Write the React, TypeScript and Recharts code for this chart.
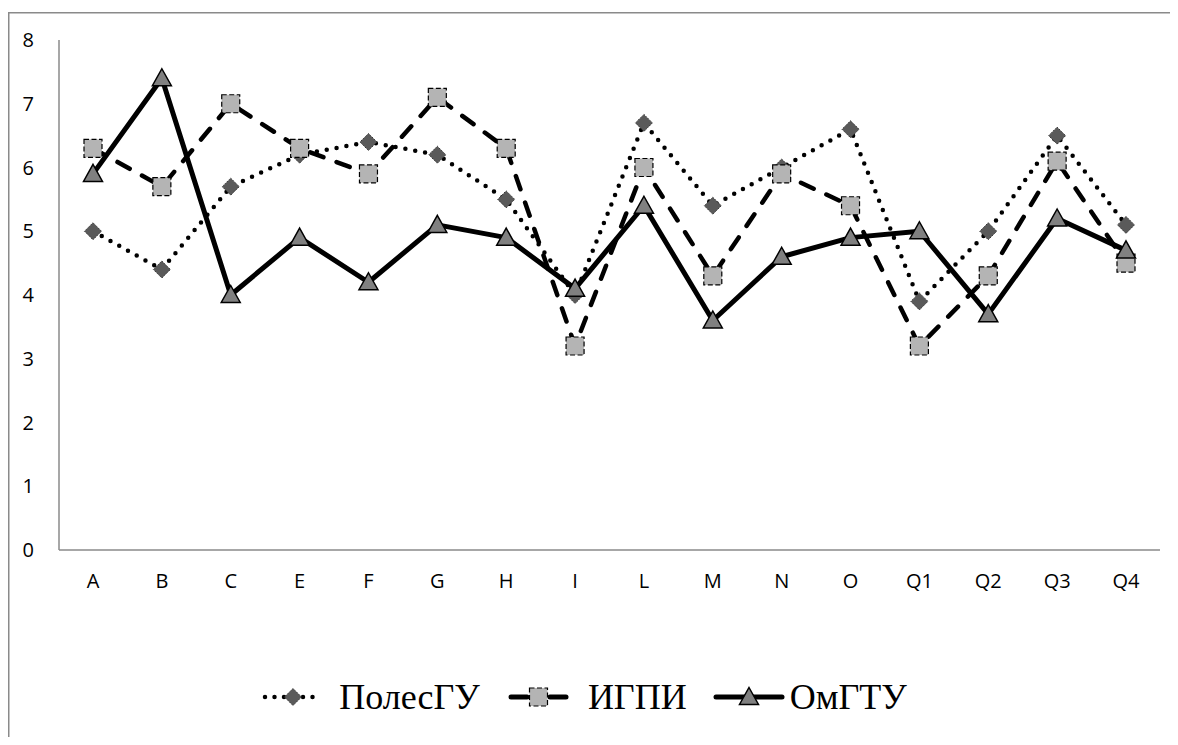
import React from 'react';
import { LineChart, Line, XAxis, YAxis, Legend } from 'recharts';

const categories = ['A', 'B', 'C', 'E', 'F', 'G', 'H', 'I', 'L', 'M', 'N', 'O', 'Q1', 'Q2', 'Q3', 'Q4'];
const polesgu = [5.0, 4.4, 5.7, 6.2, 6.4, 6.2, 5.5, 4.0, 6.7, 5.4, 6.0, 6.6, 3.9, 5.0, 6.5, 5.1];
const igpi = [6.3, 5.7, 7.0, 6.3, 5.9, 7.1, 6.3, 3.2, 6.0, 4.3, 5.9, 5.4, 3.2, 4.3, 6.1, 4.5];
const omgtu = [5.9, 7.4, 4.0, 4.9, 4.2, 5.1, 4.9, 4.1, 5.4, 3.6, 4.6, 4.9, 5.0, 3.7, 5.2, 4.7];
const yTicks = [0, 1, 2, 3, 4, 5, 6, 7, 8];

const seriesNames = ['ПолесГУ', 'ИГПИ', 'ОмГТУ'];

const data = categories.map((c, i) => ({
  cat: c,
  polesgu: polesgu[i],
  igpi: igpi[i],
  omgtu: omgtu[i],
}));

const diamondPath = (cx: number, cy: number) =>
  `M${cx},${cy - 8.5} L${cx + 8.5},${cy} L${cx},${cy + 8.5} L${cx - 8.5},${cy} Z`;
const trianglePath = (cx: number, cy: number) =>
  `M${cx},${cy - 9.5} L${cx + 9.5},${cy + 7.5} L${cx - 9.5},${cy + 7.5} Z`;

const Diamond = (props: any) => {
  const { cx, cy, index } = props;
  if (cx == null || cy == null) return <g key={`dm-${index}`} />;
  return (
    <path key={`dm-${index}`} d={diamondPath(cx, cy)} fill="#5a5a5a" stroke="#333" strokeWidth={1} strokeDasharray="1.5 1" />
  );
};

const Square = (props: any) => {
  const { cx, cy, index } = props;
  if (cx == null || cy == null) return <g key={`sq-${index}`} />;
  return (
    <rect key={`sq-${index}`} x={cx - 9} y={cy - 9} width={18} height={18} fill="#b4b4b4" stroke="#000" strokeWidth={1.2} strokeDasharray="5 2.5" />
  );
};

const Triangle = (props: any) => {
  const { cx, cy, index } = props;
  if (cx == null || cy == null) return <g key={`tr-${index}`} />;
  return <path key={`tr-${index}`} d={trianglePath(cx, cy)} fill="#808080" stroke="#000" strokeWidth={1.5} />;
};

const legendText: React.CSSProperties = {
  fontFamily: '"Liberation Serif", serif',
  fontSize: 36,
  color: '#000',
  lineHeight: '40px',
};

const LegendContent = () => {
  const mid = 20;
  return (
    <div style={{ height: 100, display: 'flex', justifyContent: 'center', alignItems: 'flex-start', paddingTop: 40, boxSizing: 'border-box' }}>
      <div style={{ display: 'flex', alignItems: 'center' }}>
        <svg width={65} height={40}>
          <line x1={4} y1={mid} x2={61} y2={mid} stroke="#000" strokeWidth={4.5} strokeDasharray="0 9.5" strokeLinecap="round" />
          <path d={diamondPath(32, mid)} fill="#5a5a5a" stroke="#333" strokeWidth={1} strokeDasharray="1.5 1" />
        </svg>
        <span style={{ ...legendText, marginLeft: 13 }}>{seriesNames[0]}</span>
      </div>
      <div style={{ display: 'flex', alignItems: 'center', marginLeft: 27 }}>
        <svg width={63} height={40}>
          <line x1={4} y1={mid} x2={20} y2={mid} stroke="#000" strokeWidth={5} strokeLinecap="round" />
          <line x1={43} y1={mid} x2={59} y2={mid} stroke="#000" strokeWidth={5} strokeLinecap="round" />
          <rect x={22.5} y={mid - 9} width={18} height={18} fill="#b4b4b4" stroke="#000" strokeWidth={1.2} strokeDasharray="5 2.5" />
        </svg>
        <span style={{ ...legendText, marginLeft: 18 }}>{seriesNames[1]}</span>
      </div>
      <div style={{ display: 'flex', alignItems: 'center', marginLeft: 26 }}>
        <svg width={72} height={40}>
          <line x1={3} y1={mid} x2={69} y2={mid} stroke="#000" strokeWidth={5} strokeLinecap="round" />
          <path d={trianglePath(36, mid)} fill="#808080" stroke="#000" strokeWidth={1.5} />
        </svg>
        <span style={{ ...legendText, marginLeft: 5 }}>{seriesNames[2]}</span>
      </div>
    </div>
  );
};

export default function App() {
  const tickStyle = { fill: '#000', fontSize: 20, fontFamily: '"Open Sans", sans-serif' };
  return (
    <div style={{ position: 'relative', width: 1162, height: 729, background: '#fff' }}>
      <style>{'html, body { overflow: hidden; }'}</style>
      <svg width={1162} height={729} style={{ position: 'absolute', left: 0, top: 0 }}>
        <line x1={0} y1={4.75} x2={1162} y2={4.75} stroke="#8a8a8a" strokeWidth={1.5} />
        <line x1={0.75} y1={4} x2={0.75} y2={729} stroke="#8a8a8a" strokeWidth={1.5} />
      </svg>
      <div style={{ position: 'absolute', left: 0, top: 0 }}>
        <LineChart width={1162} height={729} data={data} margin={{ top: 32, right: 10, left: 0, bottom: 0 }}>
          <XAxis
            dataKey="cat"
            height={87}
            padding={{ left: 34, right: 34 }}
            tickLine={false}
            axisLine={{ stroke: '#8a8a8a', strokeWidth: 1.5 }}
            tick={tickStyle}
            tickMargin={18}
            interval={0}
          />
          <YAxis
            width={51}
            domain={[0, 8]}
            ticks={yTicks}
            tickLine={false}
            axisLine={{ stroke: '#8a8a8a', strokeWidth: 1.5 }}
            tick={tickStyle}
            tickMargin={19}
          />
          <Legend verticalAlign="bottom" content={<LegendContent />} />
          <Line
            dataKey="polesgu"
            name="ПолесГУ"
            stroke="#000"
            strokeWidth={4.5}
            strokeDasharray="0 10"
            strokeLinecap="round"
            dot={Diamond}
            activeDot={false}
            isAnimationActive={false}
          />
          <Line
            dataKey="igpi"
            name="ИГПИ"
            stroke="#000"
            strokeWidth={4.5}
            strokeDasharray="14 14"
            strokeLinecap="round"
            dot={Square}
            activeDot={false}
            isAnimationActive={false}
          />
          <Line
            dataKey="omgtu"
            name="ОмГТУ"
            stroke="#000"
            strokeWidth={5}
            strokeLinejoin="round"
            dot={Triangle}
            activeDot={false}
            isAnimationActive={false}
          />
        </LineChart>
      </div>
    </div>
  );
}
